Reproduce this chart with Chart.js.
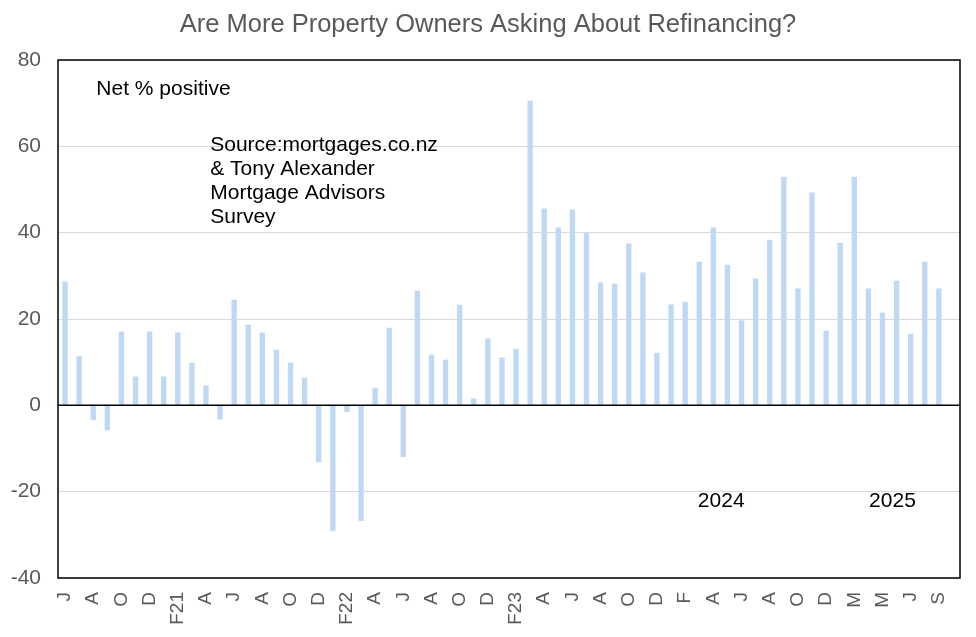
<!DOCTYPE html>
<html>
<head>
<meta charset="utf-8">
<script src="https://cdn.jsdelivr.net/npm/chart.js@4.4.1/dist/chart.umd.min.js"></script>
<style>
  html, body { margin: 0; padding: 0; background: #ffffff; }
  #wrap { width: 976px; height: 637px; }
</style>
</head>
<body>
<div id="wrap"><canvas id="c" width="976" height="637"></canvas></div>
<script>
// ---- Data ----
const months = [
  "Jun 2020","Jul 2020","Aug 2020","Sep 2020","Oct 2020","Nov 2020","Dec 2020",
  "Jan 2021","Feb 2021","Mar 2021","Apr 2021","May 2021","Jun 2021","Jul 2021","Aug 2021","Sep 2021","Oct 2021","Nov 2021","Dec 2021",
  "Jan 2022","Feb 2022","Mar 2022","Apr 2022","May 2022","Jun 2022","Jul 2022","Aug 2022","Sep 2022","Oct 2022","Nov 2022","Dec 2022",
  "Jan 2023","Feb 2023","Mar 2023","Apr 2023","May 2023","Jun 2023","Jul 2023","Aug 2023","Sep 2023","Oct 2023","Nov 2023","Dec 2023",
  "Jan 2024","Feb 2024","Mar 2024","Apr 2024","May 2024","Jun 2024","Jul 2024","Aug 2024","Sep 2024","Oct 2024","Nov 2024","Dec 2024",
  "Feb 2025","Mar 2025","Apr 2025","May 2025","Jun 2025","Jul 2025","Aug 2025","Sep 2025","Oct 2025"
];

const netPositive = [
  28.6, 11.4, -3.3, -5.7, 17.0, 6.6, 17.0,
  6.6, 16.8, 9.8, 4.5, -3.2, 24.4, 18.6, 16.8, 12.8, 9.8, 6.3, -13.1,
  -29.1, -1.5, -26.7, 4.0, 17.9, -11.9, 26.5, 11.7, 10.5, 23.2, 1.5, 15.4,
  11.0, 13.0, 70.5, 45.5, 41.1, 45.3, 40.0, 28.4, 28.1, 37.4, 30.7, 12.1,
  23.3, 23.9, 33.2, 41.1, 32.5, 19.6, 29.3, 38.3, 52.9, 27.0, 49.2, 17.2,
  37.6, 52.9, 27.0, 21.4, 28.8, 16.5, 33.2, 27.0, null
];

// shown on every second category
const tickLabels = [
  "J","A","O","D","F21","A","J","A","O","D","F22","A","J","A","O","D",
  "F23","A","J","A","O","D","F","A","J","A","O","D","M","M","J","S"
];

const yTicks = [-40, -20, 0, 20, 40, 60, 80];

const chartTitle = "Are More Property Owners Asking About Refinancing?";

// text notes anchored in data space (x = category index, y = value)
const notes = [
  { lines: ["Net % positive"], x: 2.22, y: 73.3 },
  { lines: ["Source:mortgages.co.nz", "& Tony Alexander", "Mortgage Advisors", "Survey"], x: 10.3, y: 60.3 },
  { lines: ["2024"], x: 44.9, y: -22.2 },
  { lines: ["2025"], x: 57.05, y: -22.2 }
];

// ---- Styles ----
const FONT = "Arial, 'Liberation Sans', sans-serif";
const GREY_TEXT = "#595959";
const BAR_COLOR = "#BFD9F4";

const notesPlugin = {
  id: 'notes',
  afterLayout(chart) {
    // centre the title across the whole canvas
    if (chart.titleBlock) { chart.titleBlock.left = 16; }
  },
  afterDraw(chart) {
    const ctx = chart.ctx;
    const xs = chart.scales.x, ys = chart.scales.y;
    ctx.save();
    ctx.fillStyle = '#000000';
    ctx.font = "21px " + FONT;
    ctx.textAlign = 'left';
    ctx.textBaseline = 'middle';
    notes.forEach(n => {
      const px = xs.getPixelForValue(n.x);
      const py = ys.getPixelForValue(n.y);
      n.lines.forEach((t, i) => ctx.fillText(t, px, py + i * 24));
    });
    ctx.restore();
  }
};

const boxPlugin = {
  id: 'box',
  afterDatasetsDraw(chart) {
    const a = chart.chartArea;
    const ctx = chart.ctx;
    const ys = chart.scales.y;
    ctx.save();
    ctx.strokeStyle = '#000000';
    ctx.lineWidth = 1.5;
    const y0 = ys.getPixelForValue(0);
    ctx.beginPath();
    ctx.moveTo(a.left, y0);
    ctx.lineTo(a.right, y0);
    ctx.stroke();
    ctx.strokeRect(a.left, a.top, a.right - a.left, a.bottom - a.top);
    ctx.restore();
  }
};

new Chart(document.getElementById('c'), {
  type: 'bar',
  data: {
    labels: months,
    datasets: [{
      data: netPositive,
      backgroundColor: BAR_COLOR,
      borderWidth: 0,
      barThickness: 4.7
    }]
  },
  options: {
    responsive: false,
    animation: false,
    devicePixelRatio: 1,
    layout: { padding: { left: 0, right: 16, top: 0, bottom: 0 } },
    plugins: {
      legend: { display: false },
      tooltip: { enabled: false },
      title: {
        display: true,
        text: chartTitle,
        color: GREY_TEXT,
        font: { family: FONT, size: 25.5, weight: 'normal' },
        padding: { top: 10, bottom: 19.4 }
      }
    },
    scales: {
      x: {
        type: 'category',
        offset: true,
        grid: { display: false, drawTicks: false },
        border: { display: false },
        ticks: {
          autoSkip: false,
          maxRotation: 90,
          minRotation: 90,
          padding: 14,
          color: GREY_TEXT,
          font: { family: FONT, size: 19 },
          callback: (v, i) => (i % 2 === 0 ? tickLabels[i / 2] : '')
        },
        afterFit: s => { s.height = 59; s.paddingLeft = 0; s.paddingRight = 0; }
      },
      y: {
        min: yTicks[0],
        max: yTicks[yTicks.length - 1],
        afterBuildTicks: s => { s.ticks = yTicks.map(v => ({ value: v })); },
        grid: { color: '#D9D9D9', lineWidth: 1, drawTicks: false },
        border: { display: false },
        ticks: {
          padding: 17,
          color: GREY_TEXT,
          font: { family: FONT, size: 21 }
        },
        afterFit: s => { s.width = 58; s.paddingTop = 0; s.paddingBottom = 0; }
      }
    }
  },
  plugins: [boxPlugin, notesPlugin]
});
</script>
</body>
</html>
